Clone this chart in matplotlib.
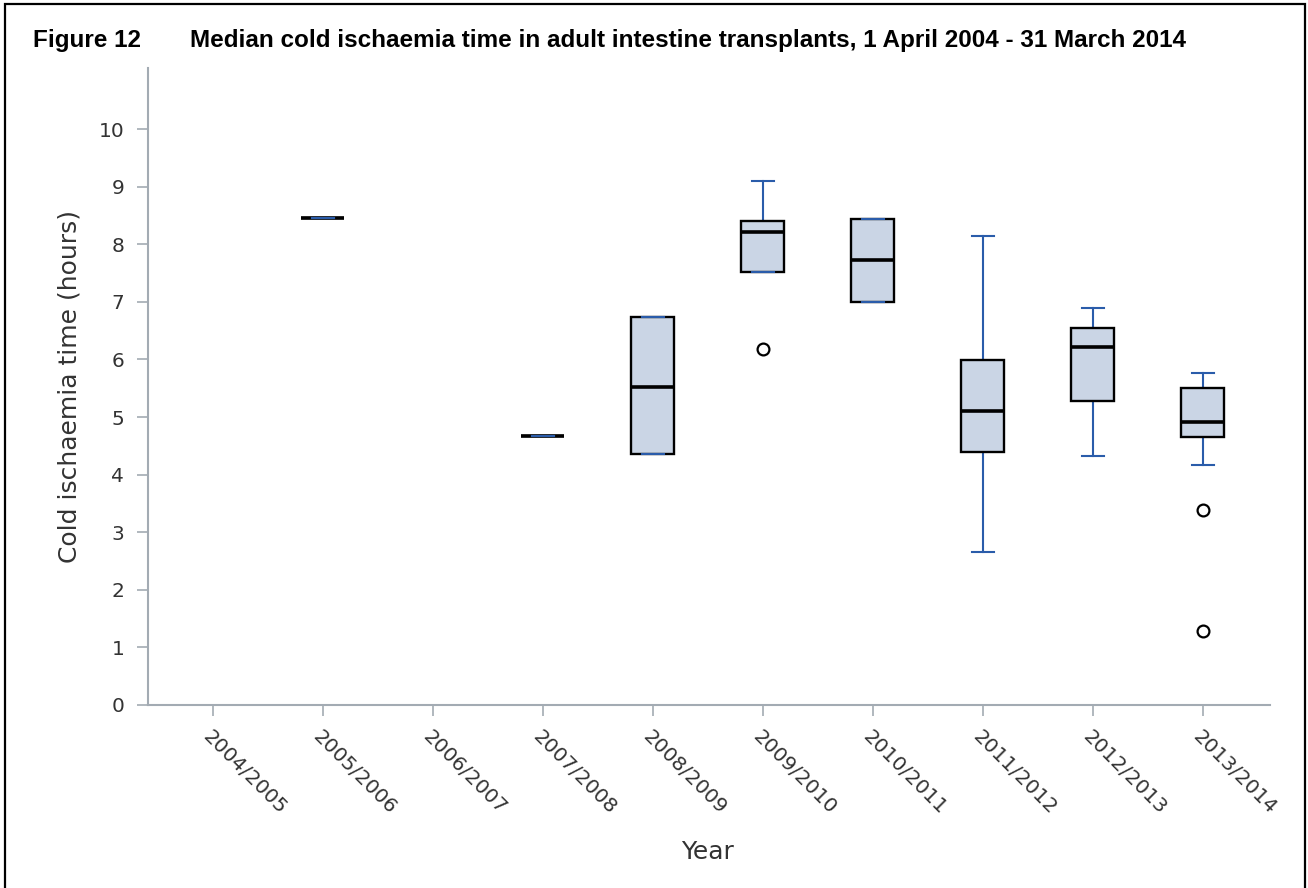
import matplotlib
matplotlib.use("Agg")
import matplotlib.pyplot as plt
from matplotlib import font_manager
from matplotlib.patches import Rectangle

# cold ischaemia time (hours) per financial year, adult intestine transplants
years = ["2004/2005", "2005/2006", "2006/2007", "2007/2008", "2008/2009",
         "2009/2010", "2010/2011", "2011/2012", "2012/2013", "2013/2014"]
whislo = [None, 8.45, None, 4.67, 4.35, 7.52, 7.00, 2.66, 4.32, 4.16]
q1 = [None, 8.45, None, 4.67, 4.35, 7.52, 7.00, 4.39, 5.27, 4.65]
med = [None, 8.45, None, 4.67, 5.52, 8.22, 7.72, 5.11, 6.22, 4.92]
q3 = [None, 8.45, None, 4.67, 6.73, 8.41, 8.44, 5.99, 6.54, 5.50]
whishi = [None, 8.45, None, 4.67, 6.73, 9.09, 8.44, 8.14, 6.90, 5.76]
fliers = [[], [], [], [], [], [6.18], [], [], [], [3.39, 1.29]]

names = {f.name for f in font_manager.fontManager.ttflist}
title_font = "Liberation Sans Narrow" if "Liberation Sans Narrow" in names else "Liberation Sans"

stats = []
positions = []
for i in range(len(years)):
    if med[i] is None:
        continue
    stats.append(dict(whislo=whislo[i], q1=q1[i], med=med[i], q3=q3[i],
                      whishi=whishi[i], fliers=fliers[i]))
    positions.append(i)

fig = plt.figure(figsize=(13.08, 8.88), dpi=100)
ax = fig.add_axes([0.1131, 0.2061, 0.8578, 0.7173])

blue = "#2a5caa"
ax.bxp(stats, positions=positions, widths=0.39, patch_artist=True,
       showfliers=True,
       boxprops=dict(facecolor="#cad5e5", edgecolor="black", linewidth=1.7, zorder=3),
       medianprops=dict(color="black", linewidth=2.6, zorder=4),
       whiskerprops=dict(color=blue, linewidth=1.5, zorder=2),
       capprops=dict(color=blue, linewidth=1.5, zorder=5),
       capwidths=0.2,
       flierprops=dict(marker="o", markersize=8.5, markerfacecolor="white",
                       markeredgecolor="black", markeredgewidth=1.6))

ax.set_xlim(-0.59, 9.61)
ax.set_ylim(0, 11.06)
ax.set_xticks(range(len(years)))
ax.set_xticklabels(years, rotation=-45, ha="left", va="top",
                   rotation_mode="anchor", fontsize=14.5, color="#333333")
ax.set_yticks(range(0, 11))
ax.tick_params(axis="y", labelsize=14.5, labelcolor="#333333", length=8,
               width=1.2, color="#a3abb3", pad=9)
ax.tick_params(axis="x", length=8, width=1.2, color="#a3abb3", pad=8)

for s in ["top", "right"]:
    ax.spines[s].set_visible(False)
for s in ["left", "bottom"]:
    ax.spines[s].set_color("#a3abb3")
    ax.spines[s].set_linewidth(1.5)

ax.set_ylabel("Cold ischaemia time (hours)", fontsize=18, color="#333333", labelpad=12)
fig.text(708 / 1308, 1 - 852 / 888, "Year", fontsize=18, color="#333333",
         ha="center", va="center")

fig.text(33 / 1308, 1 - 40 / 888, "Figure 12", fontsize=17.5, fontweight="bold",
         family=title_font, ha="left", va="center")
fig.text(190 / 1308, 1 - 40 / 888,
         "Median cold ischaemia time in adult intestine transplants, 1 April 2004 - 31 March 2014",
         fontsize=17.5, fontweight="bold", family=title_font, ha="left", va="center")

# page border
fig.patches.append(Rectangle((5 / 1308, -0.02), 1300 / 1308, 1.02 - 4 / 888,
                             transform=fig.transFigure, fill=False,
                             edgecolor="black", linewidth=1.6))

fig.savefig("out.png", dpi=100)
